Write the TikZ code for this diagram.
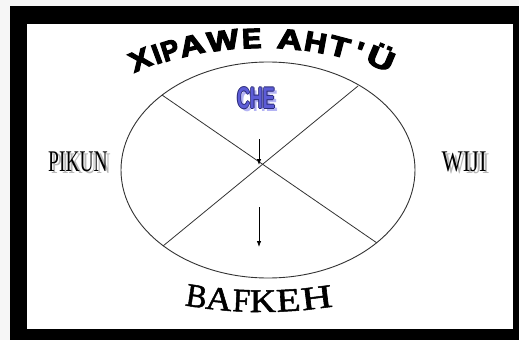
\documentclass[tikz,border=0pt]{standalone}
\usepackage{fontspec}
\setmainfont{Liberation Serif}
\newfontfamily\heavyfont{Liberation Sans}[BoldFeatures={FakeBold=4}]
\newfontfamily\chefont{Liberation Sans}
\newfontfamily\bottomfont{Liberation Serif}[UprightFeatures={FakeBold=1.5}]
\usetikzlibrary{arrows.meta}
\definecolor{chefill}{HTML}{5C5CD6}
\definecolor{cheline}{HTML}{2A2A78}
\definecolor{cheshadow}{HTML}{B4B4F4}
\definecolor{pagegray}{HTML}{F6F6F6}
\begin{document}
\begin{tikzpicture}[x=1pt,y=-1pt,
  letterT/.style={anchor=base, inner sep=0pt, font=\heavyfont\bfseries\fontsize{28}{28}\selectfont},
  letterB/.style={anchor=base, inner sep=0pt, font=\bottomfont\fontsize{33}{33}\selectfont},
  sidelabel/.style={inner sep=0pt, font=\fontsize{30}{30}\selectfont},
  sideshade/.style={sidelabel, text=black!28},
  chetext/.style={inner sep=0pt, font=\chefont\bfseries\fontsize{30}{30}\selectfont},
  crossline/.style={draw=black!80, line width=0.8pt},
  arrowline/.style={draw=black, line width=0.8pt, -{Latex[length=6pt,width=4.5pt]}}]

% frame
\fill[pagegray] (0,0) rectangle (519,340);
\fill[black] (10,6) rectangle (519,340);
\fill[white] (27,24) rectangle (513,329);

% oval and cross
\draw[draw=black!80, line width=0.9pt] (268,170) ellipse [x radius=147pt, y radius=108pt];
\coordinate (c1) at (162,95);
\coordinate (c2) at (377,243);
\coordinate (c3) at (358,86);
\coordinate (c4) at (163,246);
\draw[crossline] (c1) -- (c2);
\draw[crossline] (c3) -- (c4);

% arrows
\coordinate (a1s) at (259,139);
\coordinate (a1e) at (259,165);
\coordinate (a2s) at (259,207);
\coordinate (a2e) at (259,247);
\draw[arrowline] (a1s) -- (a1e);
\draw[arrowline] (a2s) -- (a2e);

% arched title
\foreach \ch/\x/\s [count=\i] in {X/144/1.15, I/160/1.0, P/173/0.95, A/194/1.25, W/224/1.2, E/252/1.05, A/289/1.25, H/314/1.1, T/337/1.2, {\textquotesingle}/356/1.1, Ü/377/1.35} {
  \pgfmathsetmacro\p{asin((\x-262)/350)}
  \node[letterT, rotate=-1.2*\p] (t\i) at ({262+350*sin(\p)}, {398-350*cos(\p)}) {\scalebox{\s}[1]{\ch}};
}

% bottom arched label
\foreach \ch/\x/\s [count=\i] in {B/195/0.95, A/218/1.1, F/241/0.95, K/263/1.1, E/289/1.2, H/318/1.3} {
  \pgfmathsetmacro\p{asin((\x-262)/450)}
  \node[letterB, rotate=\p] (b\i) at ({262+450*sin(\p)}, {-138+450*cos(\p)}) {\scalebox{\s}[1]{\ch}};
}

% CHE
\node[chetext, text=cheshadow] (cheshade) at (259,101) {\scalebox{0.6}[1]{CHE}};
\foreach \dx/\dy [count=\k] in {-0.8/0, 0.8/0, 0/-0.8, 0/0.8} {
  \node[chetext, text=cheline] (cheo\k) at ({256+\dx},{98+\dy}) {\scalebox{0.6}[1]{CHE}};
}
\node[chetext, text=chefill] (che) at (256,98) {\scalebox{0.6}[1]{CHE}};

% side labels
\node[sideshade] (pikunshade) at (81,164) {\scalebox{0.65}[1]{PIKUN}};
\node[sidelabel] (pikun) at (78,162) {\scalebox{0.65}[1]{PIKUN}};
\node[sideshade] (wijishade) at (467,164) {\scalebox{0.75}[1]{WIJI}};
\node[sidelabel] (wiji) at (464,162) {\scalebox{0.75}[1]{WIJI}};
\end{tikzpicture}
\end{document}
